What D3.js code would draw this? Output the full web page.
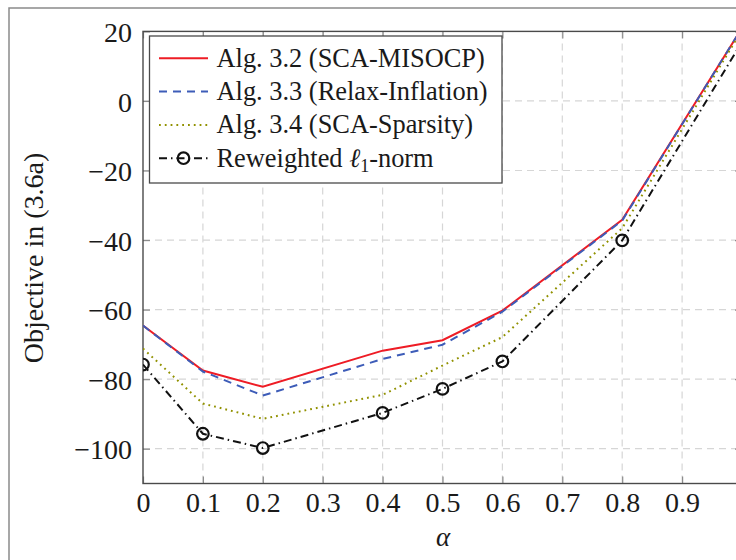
<!DOCTYPE html>
<html>
<head>
<meta charset="utf-8">
<script src="https://cdn.jsdelivr.net/npm/d3@7"></script>
<style>
  body { margin: 0; background: #fff; }
  svg { display: block; font-family: "Liberation Serif", "Times New Roman", serif; }
</style>
</head>
<body>
<div id="chart"></div>
<script>
// values
const alphaValues = [0, 0.1, 0.2, 0.4, 0.5, 0.6, 0.8, 1.0];
const scaMisocp = [-64.6, -77.5, -82.2, -71.8, -68.8, -60.3, -34.2, 21];
const relaxInflation = [-64.6, -77.8, -84.7, -74.2, -70.1, -60.6, -34.4, 21];
const scaSparsity = [-71.2, -87.0, -91.4, -84.5, -76.1, -67.9, -36.6, 20.4];
const reweightedL1 = [-75.8, -95.7, -99.8, -89.7, -82.8, -74.9, -40.1, 17];

const xTickValues = [0, 0.1, 0.2, 0.3, 0.4, 0.5, 0.6, 0.7, 0.8, 0.9];
const yTickValues = [-100, -80, -60, -40, -20, 0, 20];
const seriesNames = ["Alg. 3.2 (SCA-MISOCP)", "Alg. 3.3 (Relax-Inflation)", "Alg. 3.4 (SCA-Sparsity)", "Reweighted"];

const width = 736, height = 560;
const plot = { left: 143, right: 742, top: 31.4, bottom: 483.5 };

const svg = d3.select("#chart").append("svg")
    .attr("width", width)
    .attr("height", height);

// outer figure frame (cropped on right/bottom)
svg.append("rect")
    .attr("x", 9).attr("y", 8)
    .attr("width", 800).attr("height", 600)
    .attr("fill", "none")
    .attr("stroke", "#8a8a8a")
    .attr("stroke-width", 1.5);

const x = d3.scaleLinear().domain([0, 1]).range([plot.left, plot.right]);
const y = d3.scaleLinear().domain([-110, 20]).range([plot.bottom, plot.top]);

svg.append("defs").append("clipPath").attr("id", "plot-clip")
    .append("rect")
    .attr("x", plot.left).attr("y", plot.top)
    .attr("width", plot.right - plot.left)
    .attr("height", plot.bottom - plot.top);

// grid
const grid = svg.append("g").attr("class", "grid");
grid.selectAll(".vgrid")
    .data(xTickValues.filter(d => d > 0))
    .join("line")
    .attr("x1", d => x(d)).attr("x2", d => x(d))
    .attr("y1", plot.top).attr("y2", plot.bottom)
    .attr("stroke", "#d6d6d6").attr("stroke-width", 1.2)
    .attr("stroke-dasharray", "7,5");
grid.selectAll(".hgrid")
    .data(yTickValues.filter(d => d < 20))
    .join("line")
    .attr("x1", plot.left).attr("x2", plot.right)
    .attr("y1", d => y(d)).attr("y2", d => y(d))
    .attr("stroke", "#d6d6d6").attr("stroke-width", 1.2)
    .attr("stroke-dasharray", "7,5");

// axes with inward ticks on all four sides
const tickLen = 7;
const axisBottom = d3.axisBottom(x).tickValues(xTickValues)
    .tickSize(-tickLen).tickPadding(9)
    .tickFormat(d => d3.format("")(d));
const axisLeft = d3.axisLeft(y).tickValues(yTickValues)
    .tickSize(-tickLen).tickPadding(11)
    .tickFormat(d => d < 0 ? "\u2212" + Math.abs(d) : String(d));

const gx = svg.append("g")
    .attr("transform", `translate(0,${plot.bottom})`)
    .call(axisBottom);
const gy = svg.append("g")
    .attr("transform", `translate(${plot.left},0)`)
    .call(axisLeft);
svg.append("g")
    .attr("transform", `translate(0,${plot.top})`)
    .call(d3.axisTop(x).tickValues(xTickValues).tickSize(-tickLen).tickFormat(""));
svg.append("g")
    .attr("transform", `translate(${plot.right},0)`)
    .call(d3.axisRight(y).tickValues(yTickValues).tickSize(-tickLen).tickFormat(""));

svg.selectAll(".domain").remove();
svg.selectAll(".tick line").attr("stroke", "#8c8c8c").attr("stroke-width", 1.2);
svg.selectAll(".tick text")
    .attr("fill", "#1a1a1a")
    .style("font-family", "\"Liberation Serif\", serif")
    .style("font-size", "28px");
gy.selectAll(".tick text").attr("dy", "0.36em");

// axis frame
svg.append("rect")
    .attr("x", plot.left).attr("y", plot.top)
    .attr("width", plot.right - plot.left)
    .attr("height", plot.bottom - plot.top)
    .attr("fill", "none")
    .attr("stroke", "#4a4a4a")
    .attr("stroke-width", 1.4);

// series
const series = [
    { name: seriesNames[0], values: scaMisocp, color: "#ee1c25", dash: null, marker: false },
    { name: seriesNames[1], values: relaxInflation, color: "#3d5cb8", dash: "8,6", marker: false },
    { name: seriesNames[2], values: scaSparsity, color: "#919100", dash: "1.8,4", marker: false },
    { name: seriesNames[3], values: reweightedL1, color: "#111111", dash: "8,4,1.5,4", marker: true }
];

const line = d3.line().x(d => x(d[0])).y(d => y(d[1]));
const lines = svg.append("g").attr("clip-path", "url(#plot-clip)");

series.forEach(s => {
    const pts = alphaValues.map((a, i) => [a, s.values[i]]);
    lines.append("path")
        .datum(pts)
        .attr("d", line)
        .attr("fill", "none")
        .attr("stroke", s.color)
        .attr("stroke-width", 2)
        .attr("stroke-dasharray", s.dash);
    if (s.marker) {
        lines.selectAll(".mk")
            .data(pts.filter(p => p[0] < 1))
            .join("circle")
            .attr("cx", d => x(d[0]))
            .attr("cy", d => y(d[1]))
            .attr("r", 5.8)
            .attr("fill", "none")
            .attr("stroke", s.color)
            .attr("stroke-width", 2.2);
    }
});

// legend
const legend = svg.append("g").attr("class", "legend");
legend.append("rect")
    .attr("x", 149.5).attr("y", 36)
    .attr("width", 352.5).attr("height", 147)
    .attr("fill", "#fff")
    .attr("stroke", "#4a4a4a")
    .attr("stroke-width", 1.3);

series.forEach((s, i) => {
    const ly = 58.3 + i * 33.3;
    const row = legend.append("g");
    row.append("line")
        .attr("x1", 159).attr("x2", 208)
        .attr("y1", ly).attr("y2", ly)
        .attr("stroke", s.color)
        .attr("stroke-width", 2)
        .attr("stroke-dasharray", s.dash);
    if (s.marker) {
        row.append("circle")
            .attr("cx", 183.5).attr("cy", ly)
            .attr("r", 5.8)
            .attr("fill", "none")
            .attr("stroke", s.color)
            .attr("stroke-width", 2.2);
    }
    const t = row.append("text")
        .attr("x", 216.5).attr("y", ly + 8.5)
        .attr("fill", "#1a1a1a")
        .style("font-size", "26.4px");
    if (s.marker) {
        t.append("tspan").text(s.name + " ");
        t.append("tspan").style("font-style", "italic").text("\u2113");
        t.append("tspan").attr("dy", 5).style("font-size", "18px").text("1");
        t.append("tspan").attr("dy", -5).text("-norm");
    } else {
        t.text(s.name);
    }
});

// axis labels
svg.append("text")
    .attr("transform", `translate(43,258) rotate(-90)`)
    .attr("text-anchor", "middle")
    .attr("fill", "#1a1a1a")
    .style("font-size", "28px")
    .text("Objective in (3.6a)");

svg.append("text")
    .attr("x", 443).attr("y", 546)
    .attr("text-anchor", "middle")
    .attr("fill", "#1a1a1a")
    .style("font-size", "27px")
    .style("font-style", "italic")
    .text("\u03b1");
</script>
</body>
</html>
